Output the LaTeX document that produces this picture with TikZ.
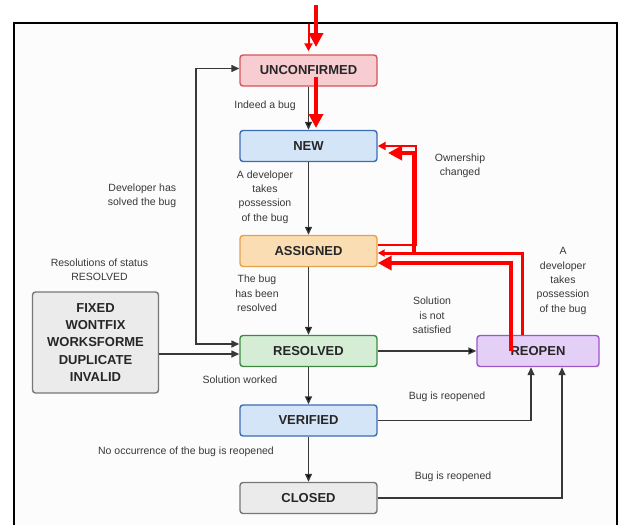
\documentclass[tikz,border=0pt]{standalone}
\usepackage{fontspec}
\setmainfont{Liberation Sans}
\usetikzlibrary{arrows.meta}

\definecolor{pinkfill}{HTML}{F8CDD1}
\definecolor{pinkdraw}{HTML}{D5545B}
\definecolor{bluefill}{HTML}{D5E5F8}
\definecolor{bluedraw}{HTML}{3B6DB3}
\definecolor{orangefill}{HTML}{FBDDB3}
\definecolor{orangedraw}{HTML}{E6A24A}
\definecolor{greenfill}{HTML}{D4EDD4}
\definecolor{greendraw}{HTML}{3E8A42}
\definecolor{greyfill}{HTML}{EBEBEB}
\definecolor{greydraw}{HTML}{777777}
\definecolor{purplefill}{HTML}{E4CFF6}
\definecolor{purpledraw}{HTML}{9B57C8}

\begin{document}
\begin{tikzpicture}[x=1pt,y=-1pt,
    state node/.style={rectangle,rounded corners=3pt,draw,line width=1.4pt,minimum width=137pt,minimum height=31pt,inner sep=0pt,font=\fontsize{13}{15}\selectfont\bfseries,text=black!85},
    note/.style={align=center,font=\fontsize{10.5}{14.3}\selectfont,text=black!78},
    flow/.style={draw=black!78,line width=1.4pt,-{Triangle[length=8pt,width=7pt]}},
    thin red/.style={draw=red,line width=2pt,-{Triangle[length=8pt,width=8pt]}},
    thick red/.style={draw=red,line width=3.5pt,-{Triangle[length=14pt,width=14pt]}}]
        \useasboundingbox (0,0) rectangle (620,525);
        \draw [line width=2.5pt, fill=black!1] (14,525) -- (14,23) -- (617,23) -- (617,525);
        \node [state node, fill=pinkfill, draw=pinkdraw] (unconfirmed) at (308.5,70.5) {UNCONFIRMED};
        \node [state node, fill=bluefill, draw=bluedraw] (new) at (308.5,146) {NEW};
        \node [state node, fill=orangefill, draw=orangedraw] (assigned) at (308.5,251) {ASSIGNED};
        \node [state node, fill=greenfill, draw=greendraw] (resolved) at (308.5,351) {RESOLVED};
        \node [state node, fill=bluefill, draw=bluedraw] (verified) at (308.5,420.5) {VERIFIED};
        \node [state node, fill=greyfill, draw=greydraw] (closed) at (308.5,498) {CLOSED};
        \node [state node, fill=purplefill, draw=purpledraw, minimum width=122pt] (reopen) at (538,351) {REOPEN};
        \node [state node, fill=greyfill, draw=greydraw, minimum width=126pt, minimum height=101pt, align=center, font=\fontsize{13}{17.2}\selectfont\bfseries] (resbox) at (95.5,342.5) {FIXED\\WONTFIX\\WORKSFORME\\DUPLICATE\\INVALID};
        \node [note] (resnote) at (99.5,269.5) {Resolutions of status\\RESOLVED};
        \node [note] (indeed) at (265,106) {Indeed a bug};
        \node [note] (takes) at (265,197) {A developer\\takes\\possession\\of the bug};
        \node [note, align=right] (solved) at (142,196) {Developer has\\solved the bug};
        \node [note] (ownership) at (460,165.5) {Ownership\\changed};
        \node [note] (hasbeen) at (257,293.5) {The bug\\has been\\resolved};
        \node [note] (notsat) at (432,315.5) {Solution\\is not\\satisfied};
        \node [note] (retakes) at (563,281) {A\\developer\\takes\\possession\\of the bug};
        \node [note] (worked) at (240,379.5) {Solution worked};
        \node [note] (reopened) at (447,397) {Bug is reopened};
        \node [note] (nooccur) at (186,452) {No occurrence of the bug is reopened};
        \node [note] (reopened2) at (453,477) {Bug is reopened};
        \coordinate (loopx) at (196,200);
        \path [flow] (unconfirmed) edge (new);
        \path [flow] (new) edge (assigned);
        \path [flow] (assigned) edge (resolved);
        \path [flow] (resolved) edge (verified);
        \path [flow] (verified) edge (closed);
        \path [flow] (resolved) edge (reopen);
        \draw [flow] ([yshift=-11.5pt]resbox.east) -- ([yshift=-3pt]resolved.west);
        \draw [flow, {Triangle[length=8pt,width=7pt]}-{Triangle[length=8pt,width=7pt]}] ([yshift=7pt]resolved.west) -| (loopx) |- ([yshift=2pt]unconfirmed.west);
        \draw [flow] (verified.east) -| ([xshift=-7pt]reopen.south);
        \draw [flow] (closed.east) -| ([xshift=24pt]reopen.south);
        \coordinate (entry) at (308.5,24);
        \coordinate (marktop) at (316,5);
        \coordinate (marktopend) at (316,47);
        \coordinate (markmid) at (316,77);
        \coordinate (markmidend) at (316,128);
        \coordinate (ownbend) at (414,253);
        \coordinate (owntip) at (388,153);
        \draw [thin red, shorten >=3pt] (entry) -- (unconfirmed.north);
        \draw [thick red] (marktop) -- (marktopend);
        \draw [thick red] (markmid) -- (markmidend);
        \draw [thin red] ([yshift=6pt]assigned.east) -- ++(38,0) |- (new.east);
        \draw [thick red, line width=3pt, -{Triangle[length=7pt,width=7pt]}] ([xshift=-16pt]reopen.north) |- ([yshift=-2pt]assigned.east);
        \draw [thick red] (ownbend) |- (owntip);
        \draw [thick red] ([xshift=-27pt]reopen.center) |- ([yshift=-12pt]assigned.east);
    \end{tikzpicture}
\end{document}
